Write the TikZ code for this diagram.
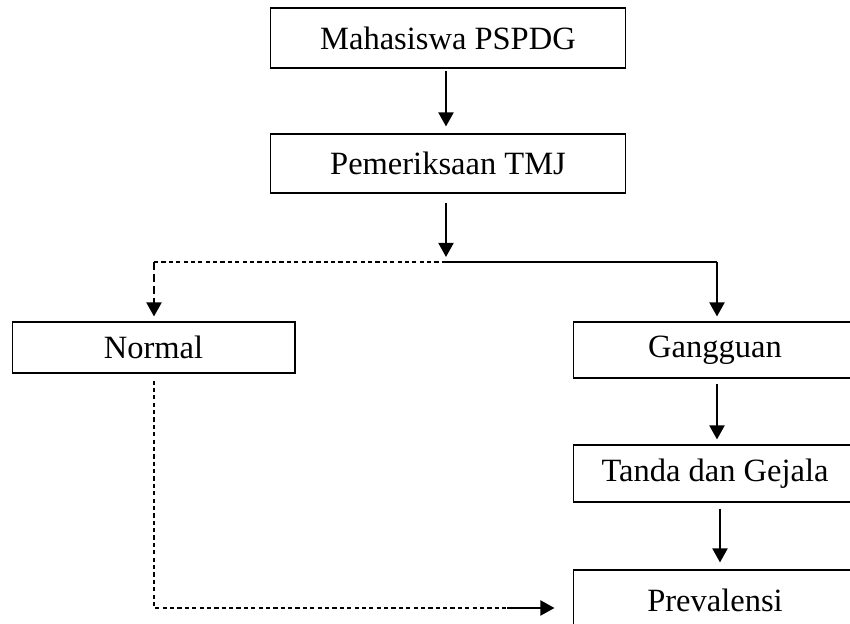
\documentclass[tikz,border=0pt]{standalone}
\usepackage{fontspec}
\setmainfont{Liberation Serif}
\usetikzlibrary{arrows.meta}

\begin{document}
\begin{tikzpicture}[
    x=0.02cm,
    y=-0.02cm,
    font=\fontsize{18.5}{22}\selectfont,
    kotak/.style={draw,line width=0.6pt,inner sep=0pt},
    panah/.style={line width=1.3pt,-{Triangle[width=8.5pt,length=8pt]}},
    garis/.style={line width=0.6pt},
    putus/.style={line width=0.6pt,dash pattern=on 2.4pt off 1.8pt},
    putustebal/.style={panah,dash pattern=on 4.5pt off 2.3pt}
]
    \useasboundingbox (0,0) rectangle (850,624);
    \clip (0,0) rectangle (850,624);

    \node[kotak,minimum width=7.12cm,minimum height=1.2cm] (mhs) at (448,38) {Mahasiswa PSPDG};
    \node[kotak,minimum width=7.12cm,minimum height=1.18cm] (tmj) at (448,163.5) {Pemeriksaan TMJ};
    \node[kotak,minimum width=5.66cm,minimum height=1.02cm] (normal) at (153.5,347.5) {Normal};
    \node[kotak,minimum width=5.68cm,minimum height=1.12cm] (ggn) at (715,350) {Gangguan};
    \node[kotak,minimum width=5.68cm,minimum height=1.14cm] (tanda) at (715,473.5) {Tanda dan Gejala};
    \node[kotak,minimum width=5.68cm,minimum height=1.2cm] (prev) at (715,600) {Prevalensi};

    \coordinate (cabang) at (446,262);
    \coordinate (kiri) at (154,262);
    \coordinate (kanan) at (717,262);
    \coordinate (bawah) at (154,608);
    \coordinate (ujung) at (507,608);

    % alur utama
    \draw[panah,shorten <=0.04cm,shorten >=0.14cm] (mhs.south -| cabang) -- (tmj.north -| cabang);
    \draw[panah,shorten <=0.18cm,shorten >=0.1cm] (tmj.south -| cabang) -- (cabang);

    % cabang kiri dan kanan
    \draw[putus] (cabang) -- (kiri);
    \draw[putustebal,shorten >=0.1cm] (kiri) -- (normal.north -| kiri);
    \draw[garis] (cabang) -- (kanan);
    \draw[panah,shorten >=0.1cm] (kanan) -- (ggn.north -| kanan);

    \draw[panah,shorten <=0.1cm,shorten >=0.1cm] (ggn.south -| kanan) -- (tanda.north -| kanan);
    \draw[panah,shorten <=0.12cm,shorten >=0.14cm] ([xshift=0.06cm]tanda.south -| kanan) -- ([xshift=0.06cm]prev.north -| kanan);

    % dari normal ke prevalensi
    \draw[putus,shorten <=0.14cm] (normal.south -| bawah) -- (bawah) -- (ujung);
    \draw[panah,shorten >=0.36cm] (ujung) -- (prev.west |- ujung);
\end{tikzpicture}
\end{document}
